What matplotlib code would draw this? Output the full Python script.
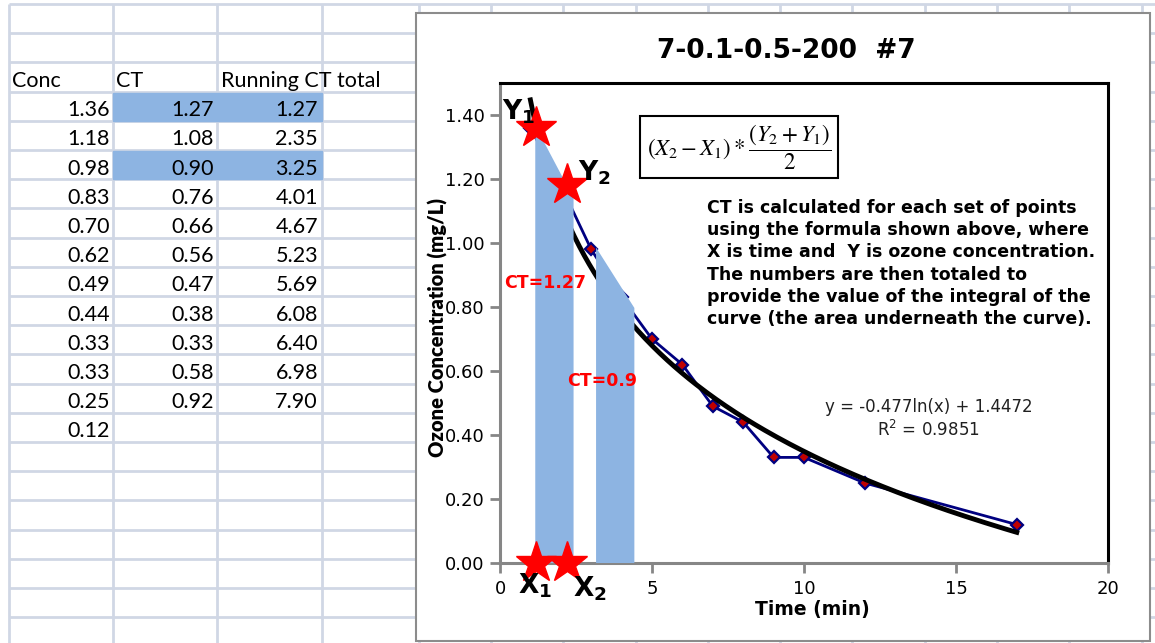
import numpy as np
import matplotlib
matplotlib.use("Agg")
import matplotlib.pyplot as plt
from matplotlib.patches import Rectangle, Polygon
from matplotlib.transforms import offset_copy

plt.rcParams["font.family"] = ["Lato", "DejaVu Sans"]

# --- data -----------------------------------------------------------------
time_min = [1, 2, 3, 4, 5, 6, 7, 8, 9, 10, 12, 17]
conc = [1.36, 1.18, 0.98, 0.83, 0.70, 0.62, 0.49, 0.44, 0.33, 0.33, 0.25, 0.12]
ct = [1.27, 1.08, 0.90, 0.76, 0.66, 0.56, 0.47, 0.38, 0.33, 0.58, 0.92]
running_ct = [1.27, 2.35, 3.25, 4.01, 4.67, 5.23, 5.69, 6.08, 6.40, 6.98, 7.90]
highlight_rows = [0, 2]          # CT segments shaded on the chart
fit_slope, fit_intercept, r_squared = -0.477, 1.4472, 0.9851
title = "7-0.1-0.5-200  #7"
note = ("CT is calculated for each set of points\n"
        "using the formula shown above, where\n"
        "X is time and  Y is ozone concentration.\n"
        "The numbers are then totaled to\n"
        "provide the value of the integral of the\n"
        "curve (the area underneath the curve).")

W, H = 1155, 643
fig = plt.figure(figsize=(W / 100, H / 100), dpi=100)
wide = "DejaVu Sans"

# --- spreadsheet background (pixel coords) ---------------------------------
sheet = fig.add_axes([0, 0, 1, 1])
sheet.set_xlim(0, W)
sheet.set_ylim(H, 0)
sheet.axis("off")
grid_c = "#d0d7e5"
row_h = 29.2
row_top = 4
col_x = [9, 113, 217, 322, 419] + list(np.arange(491, W, 72.3))
rows_y = np.arange(row_top, H + row_h, row_h)
sheet.hlines(rows_y, 9, W, color=grid_c, lw=2, zorder=1)
sheet.vlines(col_x, row_top, H, color=grid_c, lw=2, zorder=1)

for r in highlight_rows:
    y0 = row_top + (3 + r) * row_h
    sheet.add_patch(Rectangle((col_x[1], y0 + 1), col_x[3] - col_x[1], row_h - 1,
                              color="#8db4e2", zorder=2))

cell_fs = 15.5
hy = row_top + 2.5 * row_h + 4
sheet.text(12, hy, "Conc", fontsize=cell_fs, va="center", zorder=3)
sheet.text(116, hy, "CT", fontsize=cell_fs, va="center", zorder=3)
sheet.text(221, hy, "Running CT total", fontsize=cell_fs, va="center", zorder=3)
for i, c in enumerate(conc):
    yc = row_top + (3.5 + i) * row_h + 4
    sheet.text(110, yc, f"{c:.2f}", fontsize=cell_fs, ha="right", va="center", zorder=3)
    if i < len(ct):
        sheet.text(214, yc, f"{ct[i]:.2f}", fontsize=cell_fs, ha="right", va="center", zorder=3)
        sheet.text(318, yc, f"{running_ct[i]:.2f}", fontsize=cell_fs, ha="right", va="center", zorder=3)

# chart area
sheet.add_patch(Rectangle((416, 13), 734, 628, facecolor="white",
                          edgecolor="#8c8c8c", lw=1.5, zorder=4))
sheet.text(786, 51, title, fontsize=19, fontweight="bold", fontfamily=wide,
           ha="center", va="center", zorder=5)

# --- plot area ----------------------------------------------------------------
ax = fig.add_axes([500 / W, 80 / H, 608 / W, 480 / H])
ax.set_xlim(0, 20)
ax.set_ylim(0, 1.5)
ax.set_xticks([0, 5, 10, 15, 20])
ax.set_yticks(np.arange(0, 1.41, 0.2))
ax.set_yticklabels([f"{v:.2f}" for v in np.arange(0, 1.41, 0.2)])
for s in ["left", "bottom"]:
    ax.spines[s].set_color("#868686")
    ax.spines[s].set_linewidth(2.2)
for s in ["top", "right"]:
    ax.spines[s].set_color("black")
    ax.spines[s].set_linewidth(2.2)
ax.tick_params(axis="both", color="#868686", width=2, length=7, labelsize=13)
for lbl in ax.get_xticklabels() + ax.get_yticklabels():
    lbl.set_fontfamily(wide)
ax.tick_params(axis="x", pad=5)
ax.tick_params(axis="y", pad=4)

ax.set_xlabel("Time (min)", fontsize=13.5, fontweight="bold", fontfamily=wide)
ax.xaxis.set_label_coords(0.513, -0.077)
ax.set_ylabel("Ozone Concentration (mg/L)", fontsize=14.5, fontweight="heavy")
ax.yaxis.set_label_coords(-0.086, 0.49)

# measured series
ax.plot(time_min, conc, color="#000080", lw=2, marker="D", ms=6,
        mfc="#c00000", mec="#000080", mew=1.6, zorder=3)

# logarithmic trendline
tx = np.linspace(time_min[0], time_min[-1], 200)
ax.plot(tx, fit_slope * np.log(tx) + fit_intercept, color="black", lw=3.5, zorder=4)
ax.text(0.705, 0.30, f"y = {fit_slope}ln(x) + {fit_intercept}\nR$^2$ = {r_squared}",
        transform=ax.transAxes, ha="center", va="center", fontsize=12,
        fontfamily=wide, color="#202020", linespacing=1.25)

# shaded CT trapezoids
for r in highlight_rows:
    t1, t2 = time_min[r], time_min[r + 1]
    c1, c2 = conc[r], conc[r + 1]
    xl, xr = t1 + 0.16, t2 + 0.42
    yl = c1 + (c2 - c1) * (xl - 0.2 - t1) / (t2 - t1)
    yr = c1 + (c2 - c1) * (xr - 0.2 - t1) / (t2 - t1)
    ax.add_patch(Polygon([(xl, 0), (xl, yl), (xr, yr), (xr, 0)], closed=True,
                         facecolor="#8db4e2", edgecolor="none", zorder=5))

# CT labels
ax.text(1.5, 0.875, f"CT={ct[0]:g}", color="#ff0000", fontweight="bold",
        fontfamily=wide, fontsize=12.5, ha="center", va="center", zorder=6)
ax.text(3.35, 0.57, f"CT={ct[2]:g}", color="#ff0000", fontweight="bold",
        fontfamily=wide, fontsize=12.5, ha="center", va="center", zorder=6)

# stars at Y1/Y2 and X1/X2
star_tr = offset_copy(ax.transData, fig=fig, x=6, y=0, units="dots")
sx = time_min[:2]
ax.plot(sx, conc[:2], ls="none", marker="*", ms=31, color="red", mec="red",
        transform=star_tr, zorder=7, clip_on=False)
ax.plot(sx, [0, 0], ls="none", marker="*", ms=31, color="red", mec="red",
        transform=star_tr, zorder=7, clip_on=False)

lab_kw = dict(fontsize=19, math_fontfamily="dejavusans", ha="center",
              va="center", zorder=8, clip_on=False)
ax.text(0.6, 1.41, r"$\mathbf{Y_1}$", **lab_kw)
ax.text(3.1, 1.22, r"$\mathbf{Y_2}$", **lab_kw)
ax.text(1.15, -0.07, r"$\mathbf{X_1}$", **lab_kw)
ax.text(2.95, -0.08, r"$\mathbf{X_2}$", **lab_kw)

# formula box and note
fig.text(739 / W, 1 - 147 / H,
         r"$\left(X_2-X_1\right)*\dfrac{\left(Y_2+Y_1\right)}{2}$",
         math_fontfamily="stix", fontsize=16.5, ha="center", va="center",
         bbox=dict(boxstyle="square,pad=0.3", facecolor="white",
                   edgecolor="black", lw=1.5))
fig.text(707 / W, 1 - 199 / H, note, fontsize=12.5, fontweight="bold",
         fontfamily=wide, ha="left", va="top", linespacing=1.3)

fig.savefig("out.png", dpi=100)
